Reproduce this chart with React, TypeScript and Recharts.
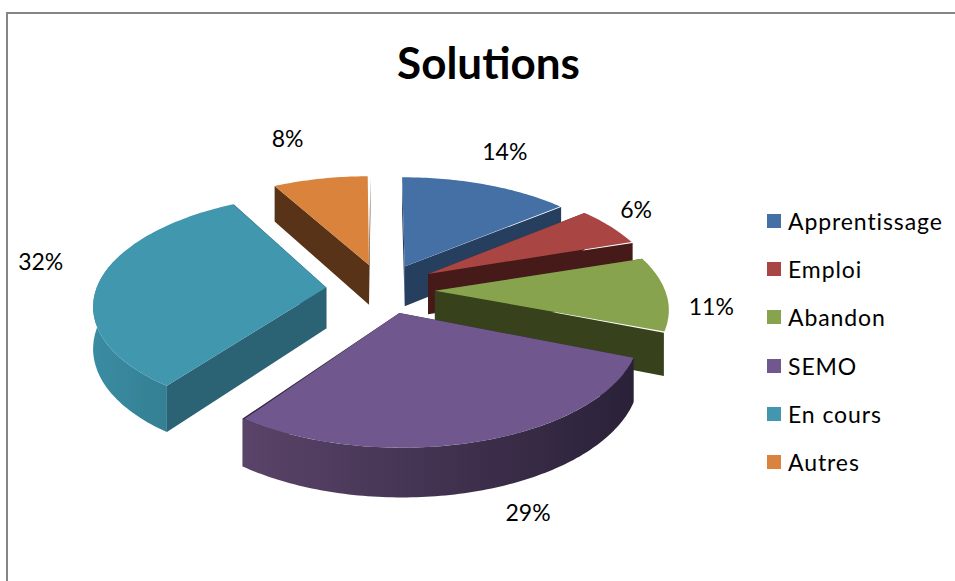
import React from 'react';
import { PieChart, Pie, Legend } from 'recharts';

const categories = ['Apprentissage', 'Emploi', 'Abandon', 'SEMO', 'En cours', 'Autres'];
const values = [14, 6, 11, 29, 32, 8];
const topColors = ['#4470A6', '#A94543', '#88A34D', '#70578D', '#4197AE', '#D9833C'];
const sideColors = ['#263F5F', '#451A18', '#37421D', '#2B2139', '#2B6274', '#583317'];
const wallLeft = ['#263F5F', '#451A18', '#37421D', '#5A4469', '#3A8CA2', '#583317'];
const wallRight = ['#263F5F', '#451A18', '#37421D', '#2A2138', '#347F93', '#583317'];

const data = categories.map((name, i) => ({ name, value: values[i], fill: topColors[i] }));

// 3D look: pie plane is tilted and seen in perspective
const TILT = 0.468;
const PERSPECTIVE = 0.145;
const EXPLODE = 0.217;
const DEPTH = 41;

// small extra pull per slice on top of EXPLODE, in px
const SLICE_SHIFT: Record<string, [number, number]> = {
  Apprentissage: [-3, -1],
  Emploi: [-2, -3],
  Abandon: [-2, 2],
  SEMO: [-2, 2],
  'En cours': [-11, 1],
  Autres: [-6, -1],
};

const LABEL_NUDGE: Record<string, [number, number]> = {
  Apprentissage: [15, -35],
  Emploi: [23, -21],
  Abandon: [43, 14],
  SEMO: [47, 73],
  'En cours': [-70, -19],
  Autres: [-40, -42],
};

const rad = (d: number) => (d * Math.PI) / 180;

const project = (cx: number, cy: number, R: number, X: number, Y: number, h = 0) => {
  const w = 1 - PERSPECTIVE * Y;
  return [cx + (R * X) / w, cy + (R * TILT * Y) / w + h / w];
};

const toPath = (pts: number[][]) =>
  'M' + pts.map((p) => `${p[0].toFixed(1)},${p[1].toFixed(1)}`).join('L') + 'Z';

const Slice3D = (props: any) => {
  const { cx, cy, outerRadius: R, startAngle, endAngle, name } = props;
  const idx = categories.indexOf(name);
  // recharts angles run counter clockwise from 3 o'clock, here clockwise from 12
  const a0 = 90 - startAngle;
  const a1 = 90 - endAngle;
  const mid = (a0 + a1) / 2;
  const ox = EXPLODE * Math.sin(rad(mid));
  const oy = -EXPLODE * Math.cos(rad(mid));
  const [sx, sy] = SLICE_SHIFT[name] ?? [0, 0];
  const rim = (a: number, h = 0) =>
    project(cx + sx, cy + sy, R, ox + Math.sin(rad(a)), oy - Math.cos(rad(a)), h);
  const apex = (h = 0) => project(cx + sx, cy + sy, R, ox, oy, h);

  const top: number[][] = [apex()];
  for (let a = a0; a <= a1 + 0.01; a += 1) top.push(rim(Math.min(a, a1)));

  const wallFrom = Math.max(a0, 112);
  const wallTo = Math.min(a1, 285);
  const outer: number[][] = [];
  if (wallTo > wallFrom) {
    for (let a = wallFrom; a <= wallTo + 0.01; a += 1) outer.push(rim(Math.min(a, wallTo)));
    for (let a = wallTo; a >= wallFrom - 0.01; a -= 1) outer.push(rim(Math.max(a, wallFrom), DEPTH));
  }
  const gid = `wall-${idx}`;
  return (
    <g>
      <defs>
        <linearGradient id={gid} x1="0" y1="0" x2="1" y2="0">
          <stop offset="0%" stopColor={wallLeft[idx]} />
          <stop offset="100%" stopColor={wallRight[idx]} />
        </linearGradient>
      </defs>
      <path d={toPath([apex(), rim(a0), rim(a0, DEPTH), apex(DEPTH)])} fill={sideColors[idx]} />
      <path d={toPath([apex(), rim(a1), rim(a1, DEPTH), apex(DEPTH)])} fill={sideColors[idx]} />
      {outer.length > 0 && <path d={toPath(outer)} fill={`url(#${gid})`} />}
      <path d={toPath(top)} fill={topColors[idx]} />
    </g>
  );
};

const renderLabel = (props: any) => {
  const { cx, cy, outerRadius: R, midAngle, name, value } = props;
  const a = 90 - midAngle;
  const k = 1 + EXPLODE;
  const [x, y] = project(cx, cy, R, k * Math.sin(rad(a)), -k * Math.cos(rad(a)));
  const [dx, dy] = LABEL_NUDGE[name] ?? [0, 0];
  return (
    <text
      x={x + dx}
      y={y + dy}
      textAnchor="middle"
      dominantBaseline="central"
      fontFamily="Lato, sans-serif"
      fontSize={23}
      fill="#000"
    >
      {`${value}%`}
    </text>
  );
};

const renderLegend = (props: any) => (
  <div>
    {(props.payload ?? []).map((entry: any) => (
      <div
        key={entry.value}
        style={{
          height: 48.2,
          display: 'flex',
          alignItems: 'center',
          fontFamily: 'Lato, sans-serif',
          fontSize: 23,
          letterSpacing: 0.9,
          color: '#000',
        }}
      >
        <span
          style={{ width: 14, height: 14, background: entry.color, marginRight: 7, flex: 'none' }}
        />
        {entry.value}
      </div>
    ))}
  </div>
);

export default function App() {
  return (
    <div style={{ position: 'absolute', left: 0, top: 0, width: 955, height: 581, background: '#fff', overflow: 'hidden' }}>
      <div
        style={{
          position: 'absolute',
          left: 6,
          top: 12,
          width: 960,
          height: 600,
          border: '2px solid #868686',
          boxSizing: 'border-box',
        }}
      />
      <div
        style={{
          position: 'absolute',
          left: 0,
          top: 35,
          width: 977,
          textAlign: 'center',
          fontFamily: 'Lato, sans-serif',
          fontWeight: 700,
          fontSize: 44,
          lineHeight: '54px',
          color: '#000',
        }}
      >
        Solutions
      </div>
      <PieChart width={955} height={581} style={{ position: 'absolute', left: 0, top: 0 }}>
        <Pie
          data={data}
          dataKey="value"
          nameKey="name"
          cx={382}
          cy={283}
          outerRadius={230}
          startAngle={90}
          endAngle={-270}
          shape={Slice3D}
          label={renderLabel}
          labelLine={false}
          stroke="none"
          isAnimationActive={false}
        />
        <Legend
          layout="vertical"
          align="right"
          verticalAlign="top"
          content={renderLegend}
          itemSorter={null}
          wrapperStyle={{ left: 767, top: 197, width: 186, right: 'auto' }}
        />
      </PieChart>
    </div>
  );
}
